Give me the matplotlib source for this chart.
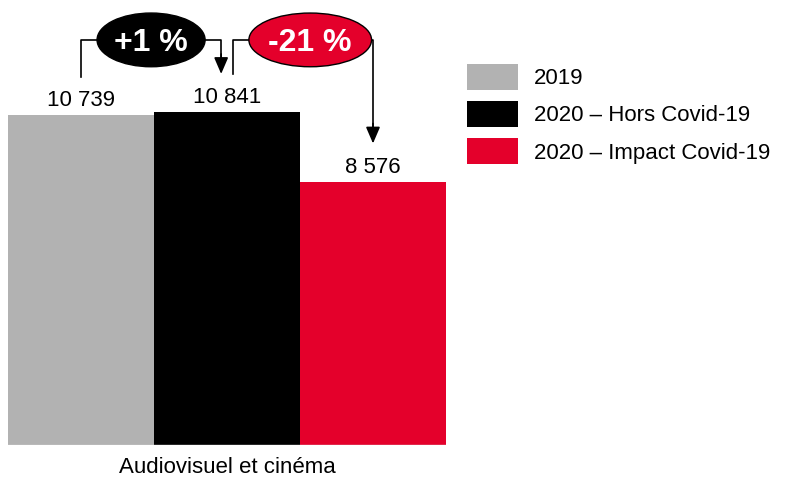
import matplotlib.pyplot as plt
from matplotlib.patches import Ellipse

plt.rcParams['font.family'] = ['Liberation Sans', 'DejaVu Sans']

series = ['2019', '2020 – Hors Covid-19', '2020 – Impact Covid-19']
values = [10739, 10841, 8576]
value_labels = ['10 739', '10 841', '8 576']
colors = ['#b2b2b2', '#000000', '#e4002b']
category = 'Audiovisuel et cinéma'
changes = ['+1 %', '-21 %']

fig = plt.figure(figsize=(7.85, 4.8), dpi=100)
ax = fig.add_axes([8 / 785, 35 / 480, 438 / 785, 445 / 480])

x = [0, 1, 2]
bars = ax.bar(x, values, width=1.0, color=colors, label=series)
ax.set_xlim(-0.5, 2.5)
ax.set_ylim(0, 14500)
for s in ax.spines.values():
    s.set_visible(False)
ax.set_yticks([])
ax.set_xticks([])
ax.axhline(0, color='#d9d9d9', lw=1)
ax.text(1, -0.028, category, transform=ax.get_xaxis_transform(), ha='center', va='top', fontsize=16)

for xi, v, lab in zip(x, values, value_labels):
    ax.annotate(lab, (xi, v), xytext=(0, 3), textcoords='offset points',
                ha='center', va='bottom', fontsize=16)

# brackets with ellipses
level = 13200
ell_w = [0.74, 0.84]
ell_c = [0.48, 1.57]
ell_col = ['#000000', '#e4002b']
pairs = [(0, 1), (1, 2)]
for (a, b), cx, w, col, txt in zip(pairs, ell_c, ell_w, ell_col, changes):
    xa = a
    xb = b
    if a == 1:
        xa = 1.04
    if b == 1:
        xb = 0.96
    ax.plot([xa, xa, cx - w / 2], [values[a] + 1250, level, level], color='black', lw=1.2, clip_on=False)
    ax.plot([cx + w / 2, xb, xb], [level, level, values[b] + 1800], color='black', lw=1.2, clip_on=False)
    ax.annotate('', xy=(xb, values[b] + 1250), xytext=(xb, values[b] + 1900),
                arrowprops=dict(arrowstyle='-|>,head_length=1.0,head_width=0.43', color='black', lw=1.2,
                                shrinkA=0, shrinkB=0), annotation_clip=False)
    e = Ellipse((cx, level), w, 1750, facecolor=col, edgecolor='black', lw=1, clip_on=False, zorder=3)
    ax.add_patch(e)
    ax.text(cx, level, txt, ha='center', va='center_baseline', color='white', fontsize=23,
            fontweight='bold', zorder=4)

fig.legend(handles=bars.patches, labels=series, loc='upper left',
           bbox_to_anchor=(467 / 785, 1 - 64 / 480), frameon=False, fontsize=16,
           handlelength=2.3, handleheight=1.4, labelspacing=0.52, handletextpad=0.72,
           borderpad=0, borderaxespad=0)

fig.savefig('out.png', dpi=100)
